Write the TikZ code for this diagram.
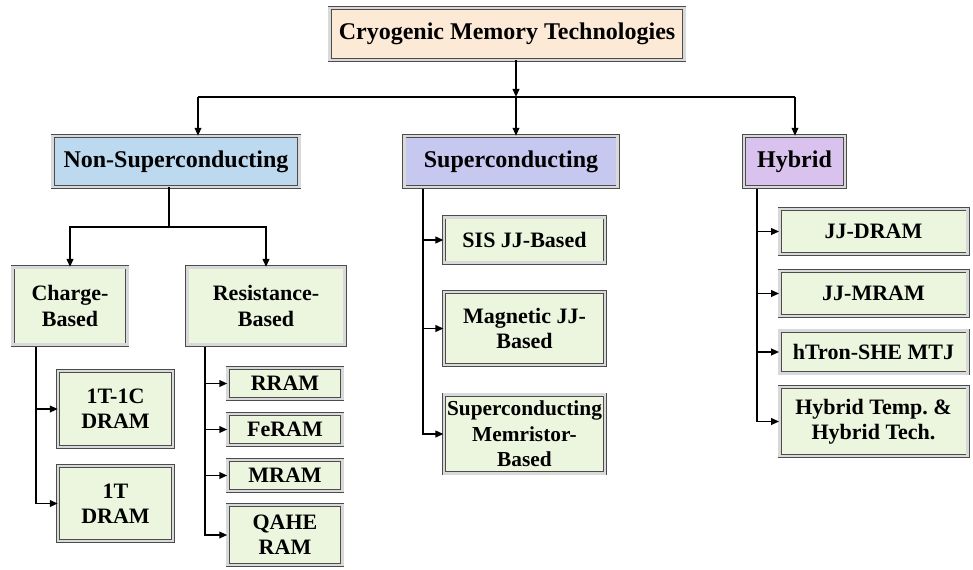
\documentclass[tikz,border=0pt]{standalone}
\usepackage{fontspec}
\setmainfont{Liberation Serif}
\usetikzlibrary{arrows.meta,positioning,calc}

\definecolor{rootfill}{HTML}{FCEAD6}
\definecolor{nsfill}{HTML}{BDD9F0}
\definecolor{supfill}{HTML}{C6C8F0}
\definecolor{hybfill}{HTML}{DAC2EE}
\definecolor{leaffill}{HTML}{ECF6DE}

\begin{document}
\begin{tikzpicture}[x=0.75pt, y=-0.75pt, auto]
	\tikzstyle{box} = [draw=gray!60!black, double=gray!30, double distance=1.8pt, line width=0.6pt,
		align=center, inner sep=0pt, font=\fontsize{16.5}{19}\selectfont\bfseries]
	\tikzstyle{root} = [box, fill=rootfill, minimum width=266pt, minimum height=39pt, font=\fontsize{18}{21}\selectfont\bfseries]
	\tikzstyle{cat} = [box, minimum height=38pt, font=\fontsize{18}{21}\selectfont\bfseries]
	\tikzstyle{leaf} = [box, fill=leaffill]
	\tikzstyle{arr} = [line width=1.3pt, -{Triangle[length=6pt,width=5pt]}]
	\tikzstyle{ln} = [line width=1.3pt]

	\useasboundingbox (0,0) rectangle (973,570);

	% top level
	\node[root] (cryo) at (507,34) {Cryogenic Memory Technologies};
	\node[cat, fill=nsfill, minimum width=185pt] (nonsup) at (176,161.5) {Non-Superconducting};
	\node[cat, fill=supfill, minimum width=160pt] (sup) at (511,161.5) {Superconducting};
	\node[cat, fill=hybfill, minimum width=76pt] (hybrid) at (794.5,161.5) {Hybrid};

	\coordinate (busL) at (198,97);
	\coordinate (busM) at (516,97);
	\coordinate (busR) at (795,97);

	\draw[arr] (busM |- cryo.south) -- (busM);
	\draw[ln] (busL) -- (busR);
	\draw[arr] (busL) -- (busL |- nonsup.north);
	\draw[arr] (busM) -- (busM |- sup.north);
	\draw[arr] (busR) -- (busR |- hybrid.north);

	% non-superconducting branch
	\node[leaf, minimum width=86pt, minimum height=58pt] (charge) at (70,306) {Charge-\\Based};
	\node[leaf, minimum width=118pt, minimum height=58pt] (resist) at (266,306) {Resistance-\\Based};

	\coordinate (nsfork) at (169,227);
	\draw[ln] (nsfork |- nonsup.south) -- (nsfork);
	\draw[arr] (nsfork) -| (charge.north);
	\draw[arr] (nsfork) -| (resist.north);

	\node[leaf, minimum width=86pt, minimum height=57pt] (dramA) at (115.5,409) {1T-1C\\DRAM};
	\node[leaf, minimum width=86pt, minimum height=56pt] (dramB) at (115.5,503.5) {1T\\DRAM};

	\node[leaf, minimum width=86pt, minimum height=23pt] (rram) at (285,383.5) {RRAM};
	\node[leaf, minimum width=86pt, minimum height=23pt] (feram) at (285,429.5) {FeRAM};
	\node[leaf, minimum width=86pt, minimum height=23pt] (mram) at (285,475.5) {MRAM};
	\node[leaf, minimum width=86pt, minimum height=45pt] (qahe) at (285,535) {QAHE\\RAM};

	\coordinate (chbus) at (36,347);
	\coordinate (rsbus) at (205,347);
	\foreach \n in {dramA,dramB}
		\draw[arr] (chbus) |- (\n.west);
	\foreach \n in {rram,feram,mram,qahe}
		\draw[arr] (rsbus) |- (\n.west);

	% superconducting branch
	\node[leaf, minimum width=121pt, minimum height=34pt] (sis) at (524.5,240) {SIS JJ-Based};
	\node[leaf, minimum width=121pt, minimum height=55pt] (magjj) at (524.5,328.5) {Magnetic JJ-\\Based};
	\node[leaf, minimum width=121pt, minimum height=59pt, font=\fontsize{16}{19}\selectfont\bfseries] (memr) at (524.5,434) {Superconducting\\Memristor-\\Based};

	\coordinate (spbus) at (423,189);
	\foreach \n in {sis,magjj,memr}
		\draw[arr] (spbus) |- (\n.west);

	% hybrid branch
	\node[leaf, minimum width=141pt, minimum height=34pt] (jjdram) at (873.5,231.5) {JJ-DRAM};
	\node[leaf, minimum width=141pt, minimum height=34pt] (jjmram) at (873.5,293.5) {JJ-MRAM};
	\node[leaf, minimum width=141pt, minimum height=32pt] (htron) at (873.5,352) {hTron-SHE MTJ};
	\node[leaf, minimum width=141pt, minimum height=52pt] (hybtech) at (873.5,421.5) {Hybrid Temp.\ \&\\Hybrid Tech.};

	\coordinate (hybus) at (757,189);
	\foreach \n in {jjdram,jjmram,htron,hybtech}
		\draw[arr] (hybus) |- (\n.west);
\end{tikzpicture}
\end{document}
